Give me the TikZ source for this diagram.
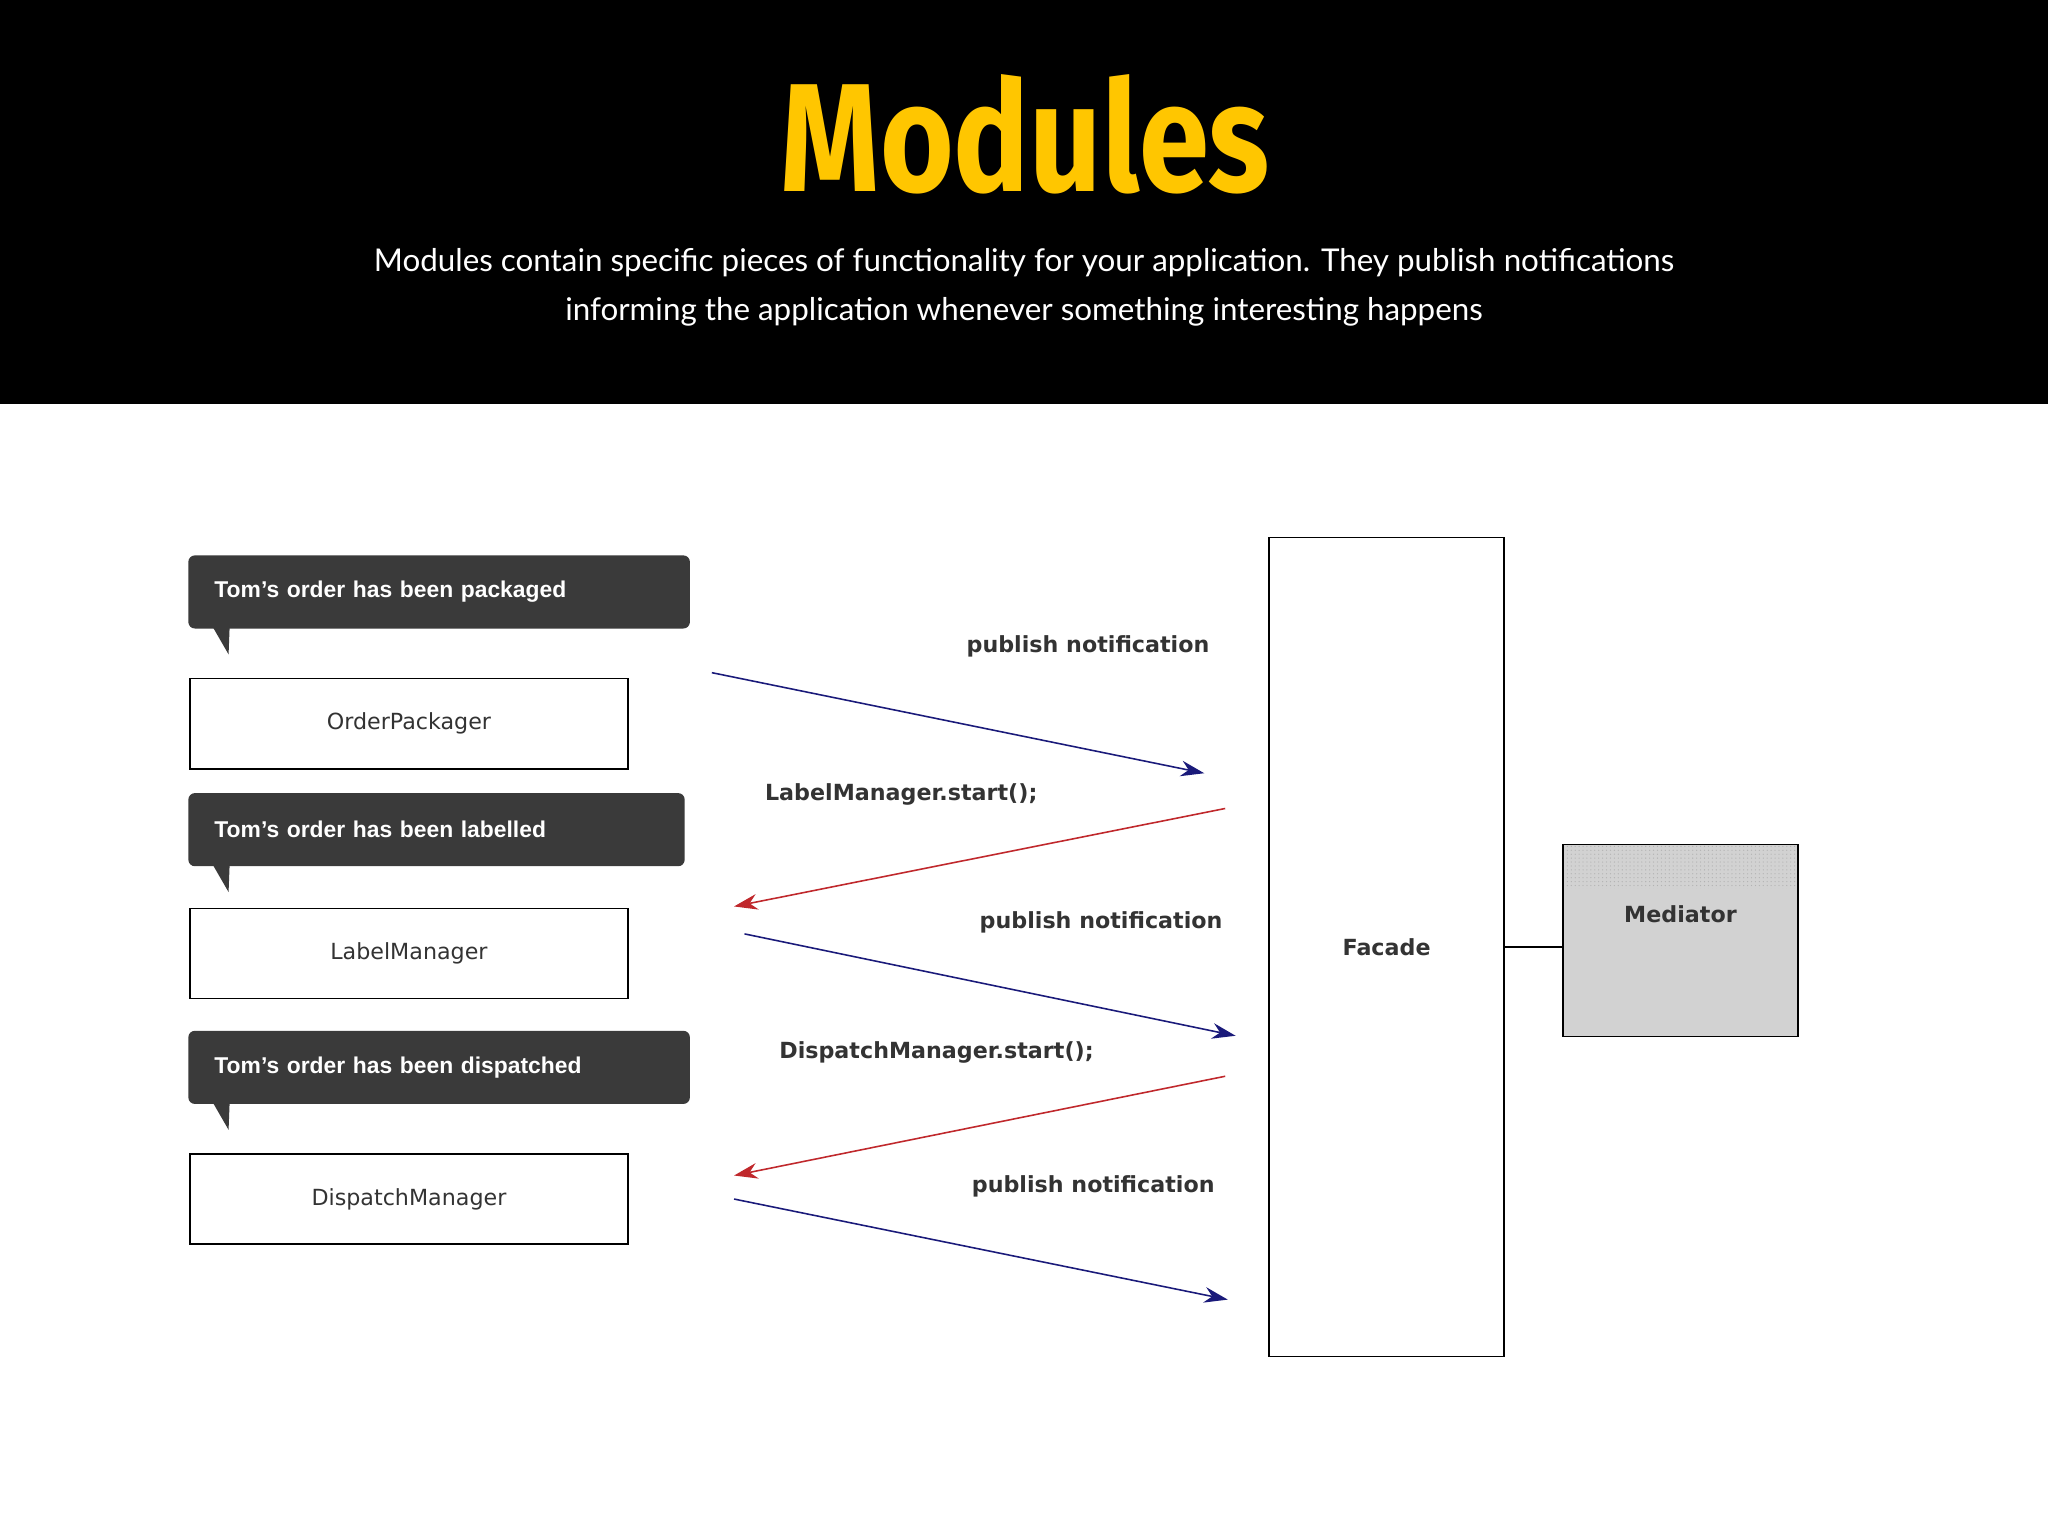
\documentclass[tikz,border=0pt]{standalone}
\usepackage{fontspec}
\setmainfont{Liberation Sans}
\newfontfamily\titlefont{Fira Sans}
\newfontfamily\subfont{Lato}
\newfontfamily\diafont{DejaVu Sans}
\usetikzlibrary{arrows.meta,patterns}
\definecolor{titleyellow}{HTML}{FFC600}
\definecolor{bubblegray}{HTML}{3A3A3A}
\definecolor{navyarrow}{HTML}{1A1A7A}
\definecolor{redarrow}{HTML}{C0282C}
\definecolor{labelgray}{HTML}{333333}
\tikzset{
  modbox/.style={draw=black,line width=1.2pt,fill=white,minimum width=335pt,minimum height=69pt,anchor=north west,font=\diafont\fontsize{17}{20}\selectfont,text=labelgray},
  bubble/.style={fill=bubblegray,rounded corners=5pt,anchor=north west,minimum height=56pt,text=white,font=\bfseries\fontsize{17.5}{20}\selectfont,align=left,inner xsep=20pt},
  msg/.style={font=\diafont\bfseries\fontsize{17}{20}\selectfont,text=labelgray},
  bluearr/.style={draw=navyarrow,line width=1.2pt,-{Stealth[length=18pt,width=12pt]}},
  redarr/.style={draw=redarrow,line width=1.2pt,-{Stealth[length=18pt,width=12pt]}}
}
\begin{document}
\begin{tikzpicture}[x=1pt,y=-1pt]
\useasboundingbox (0,0) rectangle (1568,1176);
\fill[white] (0,0) rectangle (1568,1176);
\fill[black] (0,0) rectangle (1568,309);
\node[text=titleyellow,font=\titlefont\bfseries\fontsize{118}{120}\selectfont,xscale=0.82] (title) at (785,103) {Modules};
\node[text=white,font=\subfont\fontsize{24}{37}\selectfont,align=center] (sub) at (784,220) {Modules contain specific pieces of functionality for your application. They publish notifications\\informing the application whenever something interesting happens};
% bubbles
\foreach \n/\y/\w/\t in {b1/425/384/{Tom's order has been packaged},b2/607/380/{Tom's order has been labelled},b3/789/384/{Tom's order has been dispatched}}{
  \fill[bubblegray] (160,\y+50) -- (176,\y+50) -- (175,\y+76) -- cycle;
  \node[bubble,minimum width=\w pt,text width=\w pt-40pt] (\n) at (144,\y) {\t};
}
\node[modbox] (op) at (145,519) {OrderPackager};
\node[modbox] (lm) at (145,695) {LabelManager};
\node[modbox] (dm) at (145,883) {DispatchManager};
% facade / mediator
\node[draw=black,line width=1.2pt,minimum width=180pt,minimum height=627pt,anchor=north west,font=\diafont\bfseries\fontsize{17}{20}\selectfont,text=labelgray] (fac) at (971,411) {Facade};
\node[draw=black,line width=1.2pt,fill=gray!35,minimum width=180pt,minimum height=147pt,anchor=north west,font=\diafont\bfseries\fontsize{17}{20}\selectfont,text=labelgray,text depth=40pt] (med) at (1196,646) {Mediator};
\fill[pattern=dots,pattern color=gray!60] (1197.5,647.5) rectangle (1374.5,680);
\draw[line width=1.2pt] (fac.east) -- (med.west |- fac.east);
% arrows
\coordinate (a1s) at (545,515); \coordinate (a1e) at (922,592);
\coordinate (a2s) at (938,619); \coordinate (a2e) at (562,694);
\coordinate (a3s) at (570,715); \coordinate (a3e) at (946,793);
\coordinate (a4s) at (938,824); \coordinate (a4e) at (562,900);
\coordinate (a5s) at (562,918); \coordinate (a5e) at (940,995);
\draw[bluearr] (a1s) -- (a1e);
\draw[redarr] (a2s) -- (a2e);
\draw[bluearr] (a3s) -- (a3e);
\draw[redarr] (a4s) -- (a4e);
\draw[bluearr] (a5s) -- (a5e);
\node[msg] (m1) at (833,495) {publish notification};
\node[msg] (m2) at (690,608) {LabelManager.start();};
\node[msg] (m3) at (843,706) {publish notification};
\node[msg] (m4) at (717,806) {DispatchManager.start();};
\node[msg] (m5) at (837,908) {publish notification};
\end{tikzpicture}
\end{document}
